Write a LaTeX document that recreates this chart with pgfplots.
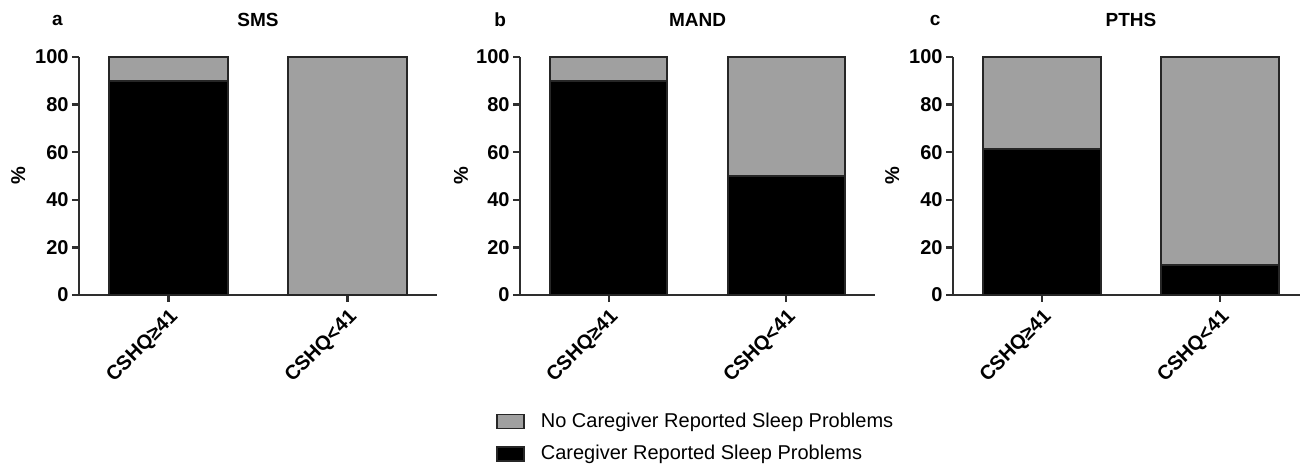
\documentclass[border=0pt]{standalone}
\usepackage{fontspec}
\setmainfont{Liberation Sans}
\usepackage{pgfplots}
\pgfplotsset{compat=1.18}

\definecolor{barGray}{HTML}{A0A0A0}
\definecolor{axGray}{HTML}{2E2E2E}

\pgfplotsset{
  panel/.style={
    scale only axis, height=119pt,
    ybar stacked, bar width=0.66,
    xmin=-0.5, xmax=1.5, ymin=0, ymax=100,
    axis x line=bottom, axis y line=left,
    axis line style={-, line width=1.3pt, color=axGray},
    xtick={0,1}, xticklabels={CSHQ≥41, CSHQ<41},
    ytick={0,20,40,60,80,100},
    tick align=outside, major tick length=3.5pt,
    major tick style={line width=1.2pt, color=axGray},
    ticklabel style={font=\bfseries\fontsize{10}{12}\selectfont},
    /pgf/number format/assume math mode=true,
    yticklabel style={inner sep=1.5pt},
    xticklabel style={rotate=45, anchor=north east, inner sep=2pt},
    clip=false,
    every axis plot/.append style={draw=black!85, line width=1pt},
    legend image code/.code={\draw[#1, line width=0.8pt] (0pt,-3.5pt) rectangle (13.5pt,3.5pt);},
  }
}

\begin{document}
\begin{tikzpicture}
\useasboundingbox (0,0) rectangle (650pt,232.5pt);

% ---------- a: SMS ----------
\begin{axis}[panel, width=179pt, at={(39.5pt,85pt)}, anchor=south west]
\addplot[fill=black] coordinates {(0,90) (1,0)};
\addplot[fill=barGray] coordinates {(0,10) (1,100)};
\node[font=\bfseries\fontsize{9.5}{11}\selectfont] at (axis description cs:0.5,1.155) {SMS};
\node[font=\bfseries\fontsize{9.5}{11}\selectfont] at (axis description cs:-0.06,1.155) {a};
\node[rotate=90, font=\bfseries\fontsize{10}{12}\selectfont] at (axis description cs:-0.17,0.5) {\%};
\end{axis}

% ---------- b: MAND ----------
\begin{axis}[panel, width=177.5pt, at={(260pt,85pt)}, anchor=south west,
  reverse legend,
  legend style={draw=none, fill=none, inner sep=0pt,
    at={(axis description cs:-0.068,-0.599)}, anchor=west,
    font=\fontsize{10}{12}\selectfont, row sep=3.5pt,
    nodes={inner sep=2pt},
    /tikz/every odd column/.append style={column sep=6pt}},
  legend cell align=left]
\addplot[fill=black] coordinates {(0,90) (1,50)};
\addplot[fill=barGray] coordinates {(0,10) (1,50)};
\addlegendentry{Caregiver Reported Sleep Problems}
\addlegendentry{No Caregiver Reported Sleep Problems}
\node[font=\bfseries\fontsize{9.5}{11}\selectfont] at (axis description cs:0.5,1.155) {MAND};
\node[font=\bfseries\fontsize{9.5}{11}\selectfont] at (axis description cs:-0.056,1.155) {b};
\node[rotate=90, font=\bfseries\fontsize{10}{12}\selectfont] at (axis description cs:-0.166,0.5) {\%};
\end{axis}

% ---------- c: PTHS ----------
\begin{axis}[panel, width=178pt, at={(476.5pt,85pt)}, anchor=south west]
\addplot[fill=black] coordinates {(0,61.5) (1,12.5)};
\addplot[fill=barGray] coordinates {(0,38.5) (1,87.5)};
\node[font=\bfseries\fontsize{9.5}{11}\selectfont] at (axis description cs:0.5,1.155) {PTHS};
\node[font=\bfseries\fontsize{9.5}{11}\selectfont] at (axis description cs:-0.05,1.155) {c};
\node[rotate=90, font=\bfseries\fontsize{10}{12}\selectfont] at (axis description cs:-0.171,0.5) {\%};
\end{axis}
\end{tikzpicture}
\end{document}
